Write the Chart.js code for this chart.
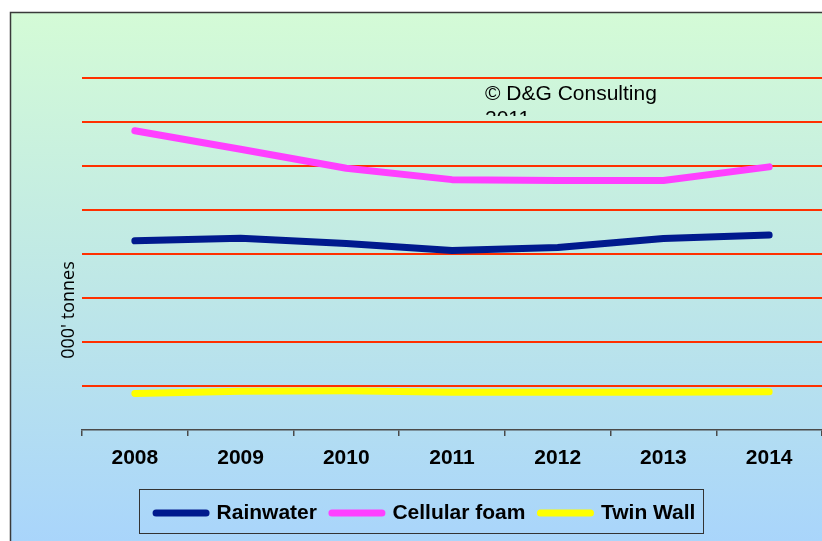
<!DOCTYPE html>
<html>
<head>
<meta charset="utf-8">
<script src="https://cdn.jsdelivr.net/npm/chart.js@4.4.1/dist/chart.umd.min.js"></script>
<style>
  html, body { margin: 0; padding: 0; background: #ffffff; overflow: hidden; }
  canvas { display: block; }
</style>
</head>
<body>
<canvas id="c" width="822" height="541"></canvas>
<script>
// ---- data ----
const categories = ['2008', '2009', '2010', '2011', '2012', '2013', '2014'];
const rainwater = [4.30, 4.36, 4.24, 4.08, 4.15, 4.35, 4.43];
const cellularFoam = [6.80, 6.38, 5.95, 5.69, 5.67, 5.67, 5.98];
const twinWall = [0.83, 0.88, 0.89, 0.86, 0.86, 0.86, 0.87];
const yTicks = [0, 1, 2, 3, 4, 5, 6, 7, 8];
const yAxisTitle = "000' tonnes";
const noteLines = ['\u00A9 D&G Consulting', '2011'];

const FONT = '"Liberation Sans", Arial, sans-serif';

const backgroundPlugin = {
  id: 'bgFrame',
  beforeDraw(chart) {
    const ctx = chart.ctx;
    const W = chart.width, H = chart.height;
    ctx.save();
    ctx.fillStyle = '#ffffff';
    ctx.fillRect(0, 0, W, H);
    const g = ctx.createLinearGradient(0, 12, 0, H);
    g.addColorStop(0, '#d4fbd6');
    g.addColorStop(0.5, '#bfe8e6');
    g.addColorStop(1, '#a9d5fb');
    ctx.fillStyle = g;
    ctx.fillRect(10, 12, W - 10, H - 12);
    ctx.strokeStyle = '#3a3a3a';
    ctx.lineWidth = 1.5;
    ctx.beginPath();
    ctx.moveTo(10.5, H);
    ctx.lineTo(10.5, 12.5);
    ctx.lineTo(W, 12.5);
    ctx.stroke();
    ctx.restore();
  },
  beforeDatasetsDraw(chart) {
    const ctx = chart.ctx;
    ctx.save();
    ctx.beginPath();
    ctx.rect(0, 0, chart.width, 116);
    ctx.clip();
    ctx.fillStyle = '#000000';
    ctx.font = '21px ' + FONT;
    ctx.textBaseline = 'alphabetic';
    ctx.textAlign = 'left';
    ctx.fillText(noteLines[0], 485, 100);
    ctx.fillText(noteLines[1], 485, 125);
    ctx.restore();
  },
  afterDraw(chart) {
    const ctx = chart.ctx;
    // y axis title
    ctx.save();
    ctx.translate(69, 310);
    ctx.rotate(-Math.PI / 2);
    ctx.fillStyle = '#000000';
    ctx.font = '18px "Open Sans", sans-serif';
    ctx.textAlign = 'center';
    ctx.textBaseline = 'middle';
    ctx.fillText(yAxisTitle, 0, 0);
    ctx.restore();
    // legend frame
    const lg = chart.legend;
    if (lg && lg.legendHitBoxes && lg.legendHitBoxes.length) {
      const hb = lg.legendHitBoxes;
      const first = hb[0], last = hb[hb.length - 1];
      const cy = first.top + first.height / 2;
      const x0 = Math.round(first.left - 3.5 - 14) + 0.5;
      const x1 = Math.round(last.left + last.width + 8) + 0.5;
      const y0 = Math.round(cy - 24) + 0.5;
      const y1 = Math.round(cy + 20) + 0.5;
      ctx.save();
      ctx.strokeStyle = '#333333';
      ctx.lineWidth = 1;
      ctx.strokeRect(x0, y0, x1 - x0, y1 - y0);
      ctx.restore();
    }
  }
};

function ds(label, data, color) {
  return {
    label, data,
    borderColor: color,
    backgroundColor: color,
    borderWidth: 7,
    borderCapStyle: 'round',
    borderJoinStyle: 'round',
    pointRadius: 0,
    pointHoverRadius: 0,
    tension: 0,
    fill: false
  };
}

new Chart(document.getElementById('c'), {
  type: 'line',
  data: {
    labels: categories,
    datasets: [
      ds('Rainwater', rainwater, '#001a8e'),
      ds('Cellular foam', cellularFoam, '#ff40ff'),
      ds('Twin Wall', twinWall, '#ffff00')
    ]
  },
  plugins: [backgroundPlugin],
  options: {
    responsive: false,
    animation: false,
    devicePixelRatio: 1,
    layout: { padding: { left: 29.5, top: 78, right: 0, bottom: 7.5 } },
    plugins: {
      tooltip: { enabled: false },
      legend: {
        position: 'bottom',
        labels: {
          boxWidth: 50,
          boxHeight: 0,
          padding: 15,
          color: '#000000',
          font: { family: FONT, size: 21, weight: 'bold' },
          generateLabels(chart) {
            const items = Chart.defaults.plugins.legend.labels.generateLabels(chart);
            items.forEach(it => {
              it.lineWidth = 7;
              it.lineCap = 'round';
              it.lineJoin = 'round';
              it.borderRadius = 0;
            });
            return items;
          }
        }
      }
    },
    scales: {
      x: {
        offset: true,
        grid: {
          offset: true,
          drawOnChartArea: false,
          drawTicks: true,
          tickLength: 6,
          color: '#4a4a4a',
          lineWidth: 1.5
        },
        border: { display: true, color: '#4a4a4a', width: 1.5 },
        ticks: {
          color: '#000000',
          padding: 10,
          maxRotation: 0,
          font: { family: FONT, size: 21, weight: 'bold' }
        },
        afterFit(s) { s.height = 57.5; }
      },
      y: {
        min: yTicks[0],
        max: yTicks[yTicks.length - 1],
        afterBuildTicks(s) { s.ticks = yTicks.map(v => ({ value: v })); },
        ticks: { display: false },
        border: { display: false },
        grid: {
          drawTicks: false,
          lineWidth: 2,
          color: (c) => (c.tick && c.tick.value === 0) ? 'rgba(0,0,0,0)' : '#ff3000'
        },
        afterFit(s) { s.width = 52.5; }
      }
    }
  }
});
</script>
</body>
</html>
